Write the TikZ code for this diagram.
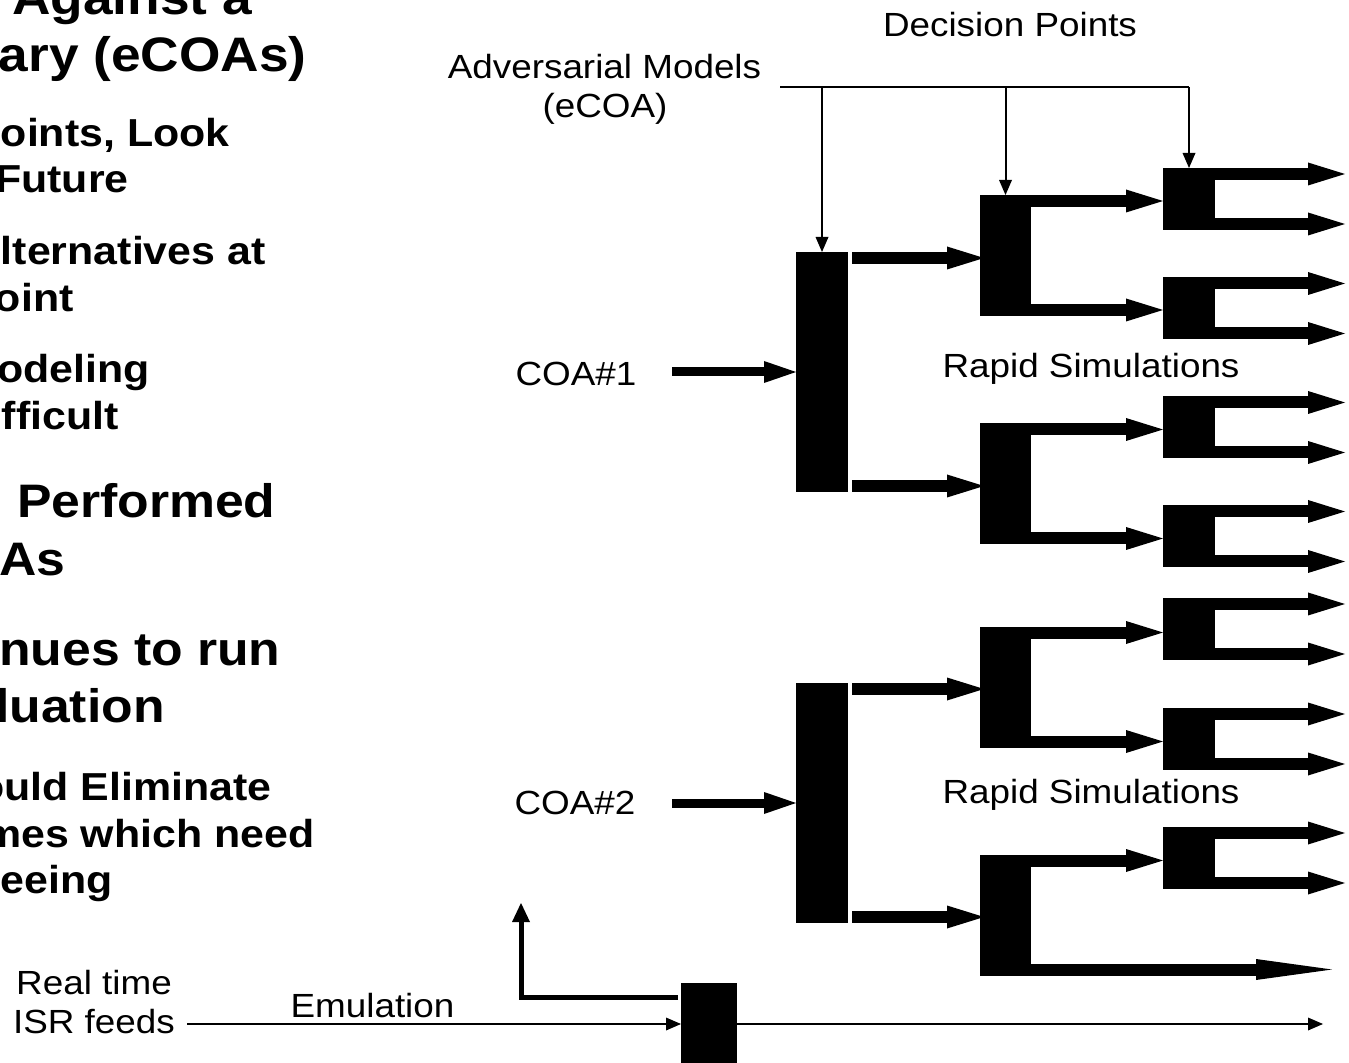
\documentclass[tikz,border=0pt]{standalone}
\usepackage{fontspec}
\setmainfont{Liberation Sans}[FakeStretch=1.1]
\usetikzlibrary{arrows.meta}

\begin{document}
\begin{tikzpicture}[x=0.5pt,y=-0.5pt,
  box/.style={rectangle, fill=black, draw=none, inner sep=0pt, outer sep=0pt},
  boxA/.style={box, minimum width=26pt, minimum height=120pt},
  boxB/.style={box, minimum width=25.5pt, minimum height=60.5pt},
  boxC/.style={box, minimum width=26pt, minimum height=31pt},
  emubox/.style={box, minimum width=28pt, minimum height=54pt},
  lbl/.style={font=\fontsize{16.75}{20}\selectfont, inner sep=0pt, anchor=base},
  ttl/.style={font=\bfseries\fontsize{24.2}{29}\selectfont, inner sep=0pt, anchor=base east},
  big/.style={font=\bfseries\fontsize{23.5}{28}\selectfont, inner sep=0pt, anchor=base east},
  mid/.style={font=\bfseries\fontsize{19.5}{23}\selectfont, inner sep=0pt, anchor=base east},
  fat/.style={line width=6pt, -{Triangle[length=18.5pt,width=11.5pt,line width=0pt]}},
  coaarrow/.style={line width=4.5pt, -{Triangle[length=16pt,width=11pt,line width=0pt]}},
  longarrow/.style={line width=6pt, -{Triangle[length=38pt,width=10.5pt,line width=0pt]}},
  thin/.style={line width=1pt, -{Triangle[length=7.5pt,width=6.5pt,line width=0pt]}},
  rail/.style={line width=1.2pt},
  feed/.style={line width=2.5pt, line join=miter, -{Triangle[length=9.5pt,width=9pt,line width=0pt]}}]

\useasboundingbox (0,0) rectangle (1349,1063);
\fill[white] (0,0) rectangle (1349,1063);
\clip (0,0) rectangle (1349,1063);

% ---- bullet text on the left ----
\node[ttl, anchor=base west] (h1) at (12,15) {Against a};
\node[ttl] (h2) at (307,72) {ary (eCOAs)};
\node[mid] (p1) at (230,147) {oints, Look};
\node[mid] (p2) at (129,193) {Future};
\node[mid] (p3) at (266,265) {lternatives at};
\node[mid] (p4) at (74,312) {oint};
\node[mid] (p5) at (150,383) {odeling};
\node[mid] (p6) at (119,430) {fficult};
\node[big] (q1) at (276,518) {Performed};
\node[big] (q2) at (66,575) {As};
\node[big] (q3) at (281,665) {nues to run};
\node[big] (q4) at (165,722) {luation};
\node[mid] (r1) at (272,800) {ould Eliminate};
\node[mid] (r2) at (315,847) {mes which need};
\node[mid] (r3) at (113,893) {eeing};

% ---- labels ----
\node[lbl] (dp) at (1010,37) {Decision Points};
\node[lbl] (adv) at (604.5,79) {Adversarial Models};
\node[lbl] (ecoa) at (605,118) {(eCOA)};
\node[lbl] (coa1) at (576,386) {COA\#1};
\node[lbl] (coa2) at (575,814) {COA\#2};
\node[lbl] (rs1) at (1091,378) {Rapid Simulations};
\node[lbl] (rs2) at (1091,803) {Rapid Simulations};
\node[lbl] (rt) at (94,994) {Real time};
\node[lbl] (isr) at (94,1033) {ISR feeds};
\node[lbl] (emu) at (372.5,1017) {Emulation};

% ---- decision boxes ----
\node[boxA] (b1) at (822,372) {};
\node[boxA] (b2) at (822,803) {};
\node[boxB] (c1) at (1005.5,255.5) {};
\node[boxB] (c2) at (1005.5,484) {};
\node[boxB] (c3) at (1005.5,687) {};
\node[boxB] (c4) at (1005.5,915) {};
\node[boxC] (d1) at (1189,199) {};
\node[boxC] (d2) at (1189,308.5) {};
\node[boxC] (d3) at (1189,427.5) {};
\node[boxC] (d4) at (1189,536.5) {};
\node[boxC] (d5) at (1189,629) {};
\node[boxC] (d6) at (1189,739) {};
\node[boxC] (d7) at (1189,858) {};
\node[emubox] (em) at (709,1037) {};

% ---- free ends ----
\coordinate (out) at (1345,0);
\coordinate (far) at (1332,0);
\coordinate (s1) at (672,372);
\coordinate (s2) at (672,803);
\coordinate (t0) at (780,87);
\coordinate (f0) at (187,1024);
\coordinate (f1) at (1323,1024);
\coordinate (lc) at (521,997);
\coordinate (lup) at (521,903);

% ---- adversarial model feeds ----
\draw[rail] (t0) -- (t0 -| d1.north);
\draw[thin] (t0 -| d1.north) -- (d1.north);
\draw[thin] (t0 -| b1.north) -- (b1.north);
\draw[thin] (t0 -| c1.north) -- (c1.north);

% ---- course of action inputs ----
\draw[coaarrow] (s1) -- (b1.west);
\draw[coaarrow] (s2) -- (b2.west);

% ---- first branching ----
\foreach \src/\up/\dn in {b1/c1/c2, b2/c3/c4}{
  \draw[fat] ([shift={(2pt,-3pt)}]\src.north east) -- ([shift={(2pt,-3pt)}]\src.north east -| \up.west);
  \draw[fat] ([shift={(2pt,3pt)}]\src.south east) -- ([shift={(2pt,3pt)}]\src.south east -| \dn.west);
}

% ---- second branching ----
\foreach \src/\up/\dn in {c1/d1/d2, c2/d3/d4, c3/d5/d6}{
  \draw[fat] ([yshift=-3pt]\src.north east) -- ([yshift=-3pt]\src.north east -| \up.west);
  \draw[fat] ([yshift=3pt]\src.south east) -- ([yshift=3pt]\src.south east -| \dn.west);
}
\draw[fat] ([yshift=-3pt]c4.north east) -- ([yshift=-3pt]c4.north east -| d7.west);
\draw[longarrow] ([yshift=3pt]c4.south east) -- ([yshift=3pt]c4.south east -| far);

% ---- outcomes ----
\foreach \n in {d1,d2,d3,d4,d5,d6,d7}{
  \draw[fat] ([yshift=-3pt]\n.north east) -- ([yshift=-3pt]\n.north east -| out);
  \draw[fat] ([yshift=3pt]\n.south east) -- ([yshift=3pt]\n.south east -| out);
}

% ---- emulation ----
\draw[thin] (f0) -- (f0 -| em.west);
\draw[thin] (f0 -| em.east) -- (f1);
\draw[feed] ([xshift=-1.5pt]em.west |- lc) -- (lc) -- (lup);
\end{tikzpicture}
\end{document}
